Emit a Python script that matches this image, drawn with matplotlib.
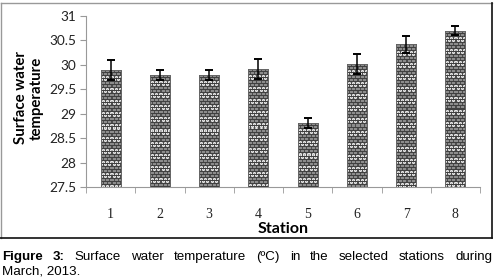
import numpy as np
import matplotlib
matplotlib.use("Agg")
import matplotlib.pyplot as plt
from matplotlib.lines import Line2D

stations = ["1", "2", "3", "4", "5", "6", "7", "8"]
temps = [29.9, 29.8, 29.8, 29.92, 28.81, 30.02, 30.42, 30.7]
errs = [0.2, 0.1, 0.1, 0.2, 0.1, 0.2, 0.18, 0.09]
yticks = [27.5, 28, 28.5, 29, 29.5, 30, 30.5, 31]
ylabel = "Surface water\ntemperature"
xlabel = "Station"

W, H = 494, 280
fig = plt.figure(figsize=(W / 100, H / 100), dpi=100)
ax = fig.add_axes([86 / W, 1 - 187 / H, (480 - 86) / W, (187 - 16) / H])

x = np.arange(len(stations))
bw = 0.41
bars = ax.bar(x, [t - yticks[0] for t in temps], bottom=yticks[0], width=bw,
              color="#9a9a9a", edgecolor="#777777", linewidth=0.6, zorder=2)
ax.errorbar(x, temps, yerr=errs, fmt="none", ecolor="black", elinewidth=1.1,
            capsize=3, capthick=1.4, zorder=5)

ax.set_xlim(-0.5, len(stations) - 0.5)
ax.set_ylim(yticks[0], yticks[-1])
ax.set_yticks(yticks)
ax.set_yticklabels([f"{v:g}" for v in yticks], family="Lato", fontsize=9.8, color="#222222")
ax.set_xticks(x)
ax.set_xticklabels(stations, family="Liberation Serif", fontsize=10, color="#222222")
ax.set_xticks(np.arange(len(stations) + 1) - 0.5, minor=True)
ax.tick_params(axis="x", which="major", length=0, pad=15)
ax.tick_params(axis="x", which="minor", length=4, color="#999999", direction="out")
ax.tick_params(axis="y", length=4, color="#999999", direction="out", pad=3)
for s in ["top", "right"]:
    ax.spines[s].set_visible(False)
for s in ["left", "bottom"]:
    ax.spines[s].set_color("#999999")
    ax.spines[s].set_linewidth(0.8)

ax.set_xlabel(xlabel, family="Lato", fontweight="bold", fontsize=11.5, labelpad=1)
fig.text(29 / W, 1 - 98 / H, ylabel, rotation=90, family="Lato", fontweight="bold",
         fontsize=10.8, ha="center", va="center", linespacing=1.15)

# brick texture overlay clipped to each bar
fig.canvas.draw()
def brick(hpx, wpx):
    arr = np.ones((hpx, wpx)) * 0.9
    for r in range(hpx):
        rr = r % 3
        row = r // 3
        if rr == 0:
            arr[r, :] = 0.25
        else:
            fill = 0.55 if (row // 2) % 2 == 0 else 0.9
            arr[r, :] = fill
            if fill > 0.8:
                arr[r, (r % 2)::2] = 0.7
            off = 0 if row % 2 == 0 else 2
            arr[r, off::4] = 0.3
    return arr

for b in bars:
    x0, y0 = b.get_x(), b.get_y()
    w, h = b.get_width(), b.get_height()
    p0 = ax.transData.transform((x0, y0))
    p1 = ax.transData.transform((x0 + w, y0 + h))
    wpx = max(int(round(p1[0] - p0[0])), 1)
    hpx = max(int(round(p1[1] - p0[1])), 1)
    tex = brick(hpx, wpx)
    im = ax.imshow(tex, cmap="gray", vmin=0, vmax=1, extent=[x0, x0 + w, y0, y0 + h],
                   origin="upper", interpolation="nearest", aspect="auto", zorder=3)
    im.set_clip_path(b)
    ax.bar(x0 + w / 2, h, bottom=y0, width=w, fill=False, edgecolor="#666666",
           linewidth=0.7, zorder=4)
ax.set_xlim(-0.5, len(stations) - 0.5)
ax.set_ylim(yticks[0], yticks[-1])

# outer border
fig.add_artist(Line2D([0.5 / W, 492 / W], [1 - 3 / H, 1 - 3 / H], color="#999999", lw=1))
fig.add_artist(Line2D([0.5 / W, 0.5 / W], [1 - 3 / H, 1 - 238 / H], color="#999999", lw=1))
fig.add_artist(Line2D([492 / W, 492 / W], [1 - 3 / H, 1 - 238 / H], color="#111111", lw=1.2))
fig.add_artist(Line2D([0, 492 / W], [1 - 238 / H, 1 - 238 / H], color="#111111", lw=1.2))

# caption, first line justified
cap_bold = ["Figure", "3:"]
cap_words = ["Surface", "water", "temperature", "(ºC)", "in", "the", "selected", "stations", "during"]
cap_line2 = "March, 2013."
fs = 9.6
y1 = 1 - 257 / H
y2 = 1 - 271 / H
renderer = fig.canvas.get_renderer()
items = [fig.text(0, y1, wd, family="Liberation Sans", fontweight="bold", fontsize=fs, va="center")
         for wd in cap_bold]
for wd in cap_words:
    items.append(fig.text(0, y1, wd, family="Liberation Sans", fontsize=fs, va="center"))
widths = [t.get_window_extent(renderer).width for t in items]
left_px, right_px = 2, 492
gap = (right_px - left_px - sum(widths)) / (len(items) - 1)
cur = left_px
for t, wdt in zip(items, widths):
    t.set_x(cur / W)
    cur += wdt + gap
fig.text(2 / W, y2, cap_line2, family="Liberation Sans", fontsize=fs, va="center")

fig.savefig("out.png", dpi=100)
